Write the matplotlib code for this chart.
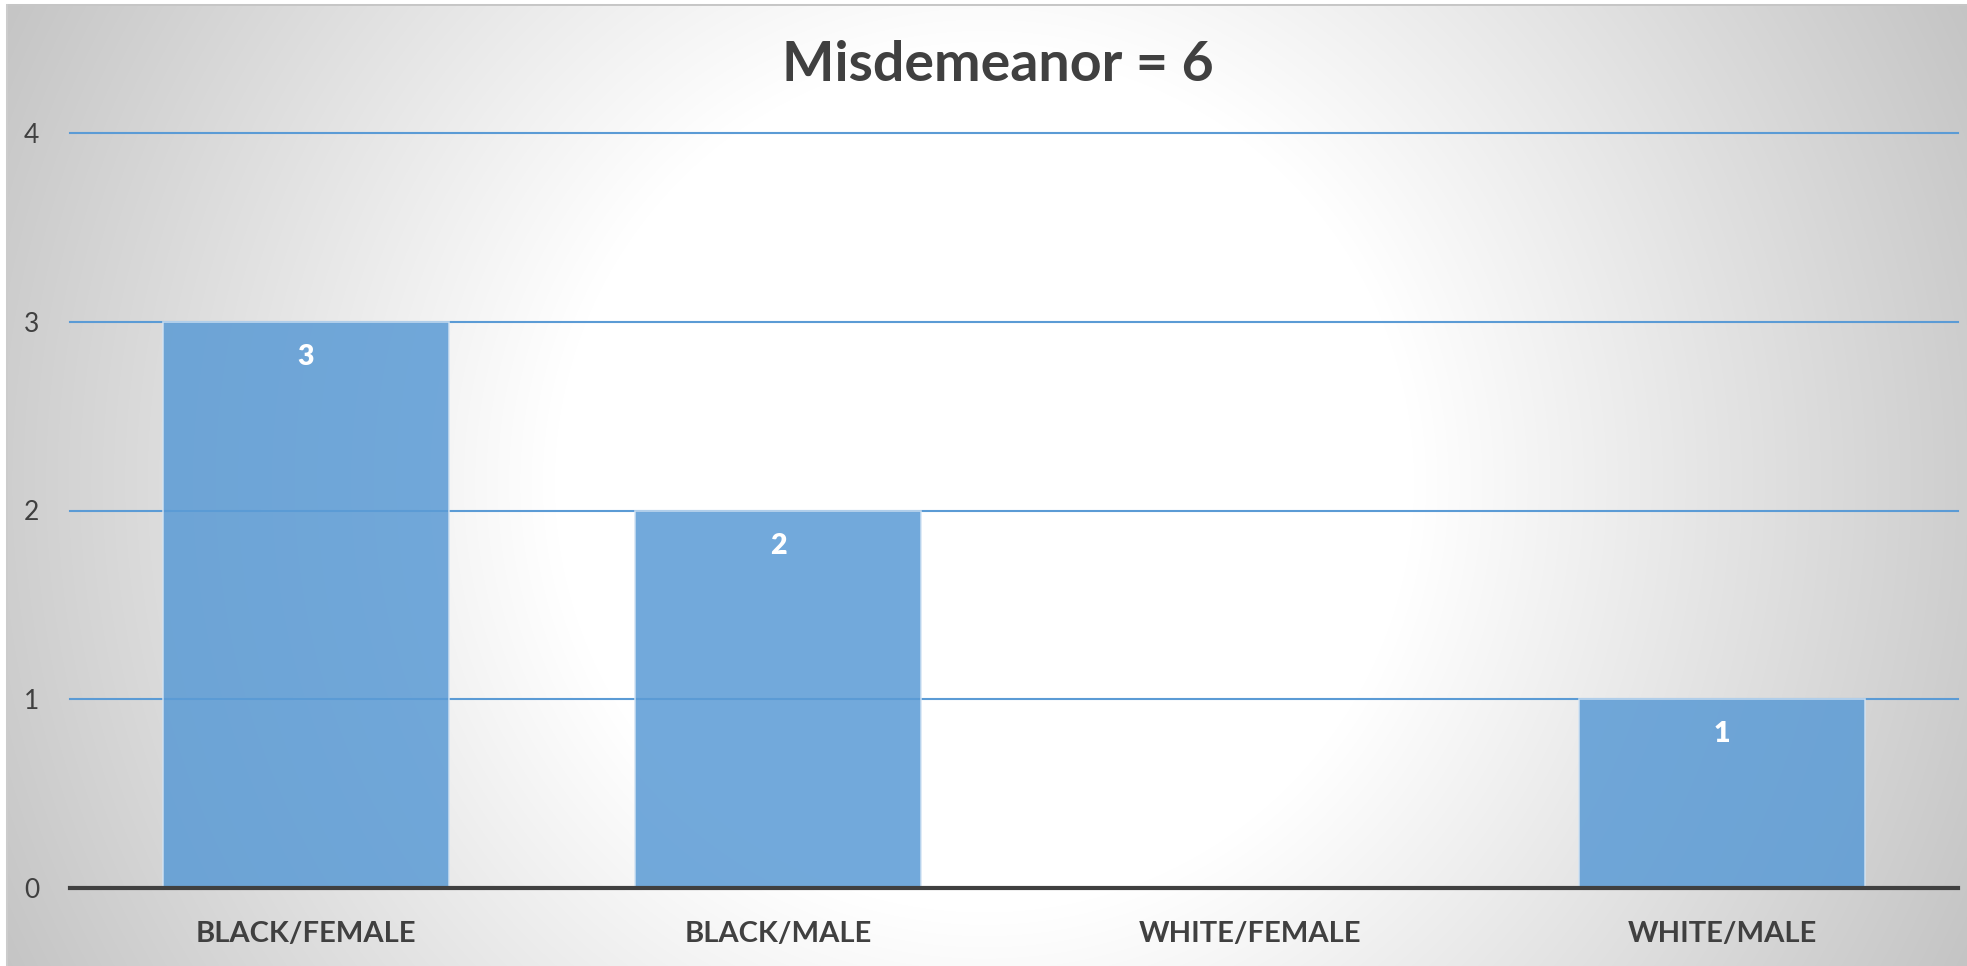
import numpy as np
import matplotlib
matplotlib.use("Agg")
import matplotlib.pyplot as plt

# ---- data ----
categories = ["BLACK/FEMALE", "BLACK/MALE", "WHITE/FEMALE", "WHITE/MALE"]
counts = [3, 2, 0, 1]
y_ticks = [0, 1, 2, 3, 4]
title = "Misdemeanor = 6"

W, H, DPI = 1967, 966, 100
plt.rcParams["font.family"] = ["Lato", "DejaVu Sans"]
TXT = "#404040"

fig = plt.figure(figsize=(W / DPI, H / DPI), dpi=DPI, facecolor="white")

# ---- radial gradient background ----
yy, xx = np.mgrid[0:H, 0:W].astype(float)
cx, cy = W / 2.0, H / 2.0
r = np.hypot(xx - cx, yy - cy)
rmax = np.hypot(cx, cy)
r0 = 430.0
t = np.clip((r - r0) / (rmax - r0), 0, 1)
val = 255 - t * (255 - 196)
img = np.dstack([val, val, val]) / 255.0
img[:4, :, :] = 1.0
img[:, :6, :] = 1.0
img[4:6, 6:, :] = 0.78
img[4:, 6:8, :] = 0.80
bg = fig.add_axes([0, 0, 1, 1], zorder=-10)
bg.imshow(img, aspect="auto", interpolation="bilinear")
bg.set_axis_off()

# ---- main axes ----
left, right = 70 / W, 1958 / W
bottom = (H - 888) / H
top = (H - 133) / H
ax = fig.add_axes([left, bottom, right - left, top - bottom])
ax.set_facecolor("none")

x = np.arange(len(categories))
bars = ax.bar(x, counts, width=0.606, color="#5b9bd5", alpha=0.86,
              edgecolor="#d2e3f3", linewidth=1.2, zorder=2)

ax.set_xlim(-0.5, len(categories) - 0.5)
ax.set_ylim(0, 4)
ax.set_yticks(y_ticks)
ax.set_yticklabels([str(v) for v in y_ticks])
ax.set_xticks(x)
ax.set_xticklabels(categories)

ax.yaxis.grid(True, color="#5b9bd5", linewidth=1.5, zorder=1)
ax.set_axisbelow(True)
for gl in ax.get_ygridlines():
    gl.set_clip_on(False)

for s in ["top", "right", "left"]:
    ax.spines[s].set_visible(False)
ax.spines["bottom"].set_color(TXT)
ax.spines["bottom"].set_linewidth(3)
ax.spines["bottom"].set_zorder(5)

ax.tick_params(axis="both", length=0)
ax.tick_params(axis="y", pad=22, labelsize=19, labelcolor=TXT)
ax.tick_params(axis="x", pad=39, labelsize=21, labelcolor=TXT)
for tl in ax.get_xticklabels():
    tl.set_fontweight("bold")
    tl.set_va("baseline")

# data labels
for b, v in zip(bars, counts):
    if v > 0:
        ax.annotate(str(v), xy=(b.get_x() + b.get_width() / 2, v),
                    xytext=(0, -31), textcoords="offset points",
                    ha="center", va="baseline", color="white",
                    fontsize=20.5, fontweight="heavy", zorder=6)

fig.text(998 / W, 1 - 81 / H, title, ha="center", va="baseline",
         fontsize=40, fontweight="bold", color=TXT)

fig.savefig("out.png", dpi=DPI)
